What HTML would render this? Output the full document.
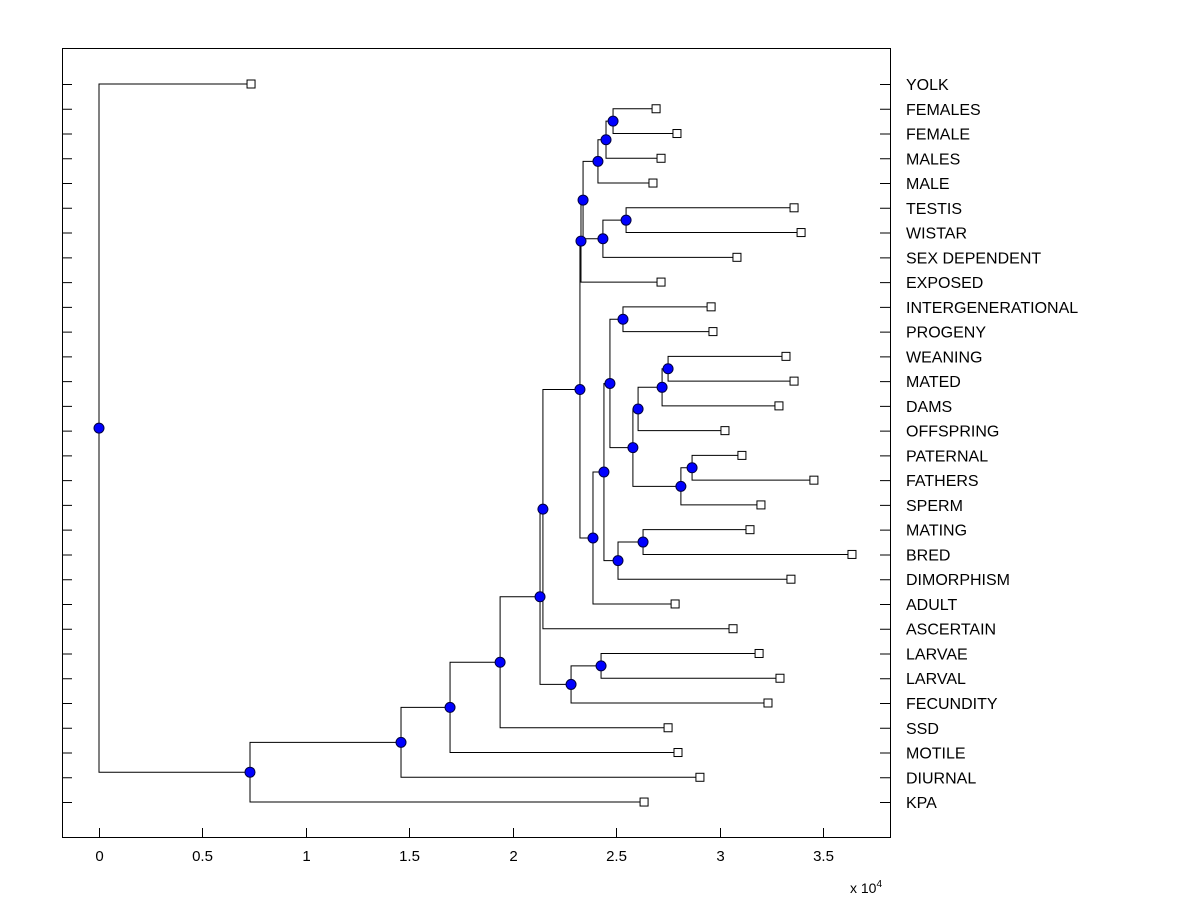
<!DOCTYPE html>
<html><head><meta charset="utf-8"><style>
html,body{margin:0;padding:0;background:#fff;}
svg{display:block;font-family:"Liberation Sans",Arial,sans-serif;}
</style></head><body>
<svg id="chart" width="1200" height="900" viewBox="0 0 1200 900" xmlns="http://www.w3.org/2000/svg">
<rect x="0" y="0" width="1200" height="900" fill="#fff"/>
<g id="g-lines"></g>
<g id="g-marks"></g>
<rect x="62.5" y="48.5" width="828" height="789" fill="none" stroke="#000" stroke-width="1"/>
<g id="g-axes"></g>
<text x="850" y="893" font-size="14">x 10<tspan dy="-6" font-size="10">4</tspan></text>
</svg>
<script>
const leafLabels = ["YOLK","FEMALES","FEMALE","MALES","MALE","TESTIS","WISTAR","SEX DEPENDENT","EXPOSED","INTERGENERATIONAL","PROGENY","WEANING","MATED","DAMS","OFFSPRING","PATERNAL","FATHERS","SPERM","MATING","BRED","DIMORPHISM","ADULT","ASCERTAIN","LARVAE","LARVAL","FECUNDITY","SSD","MOTILE","DIURNAL","KPA"];
const leafValues = [0.735,2.693,2.794,2.717,2.678,3.360,3.394,3.084,2.717,2.959,2.968,3.321,3.360,3.287,3.026,3.108,3.456,3.200,3.147,3.640,3.345,2.785,3.065,3.191,3.292,3.234,2.751,2.799,2.905,2.635];
// merges: [childA, childB]; node ids 30+ in order
const mergeLeft  = [1,30,31,5,33,32,35,9,11,38,39,15,41,40,37,18,45,44,47,36,49,23,51,50,53,54,55,56,0];
const mergeRight = [2,3,4,6,7,34,8,10,12,13,14,16,17,42,43,19,20,46,21,48,22,24,25,52,26,27,28,29,57];
const mergeHeights = [2.485,2.451,2.412,2.548,2.436,2.340,2.330,2.533,2.751,2.722,2.606,2.867,2.813,2.581,2.470,2.630,2.509,2.441,2.388,2.325,2.146,2.427,2.282,2.132,1.939,1.697,1.460,0.730,0.0];
const xTickValues = [0,0.5,1,1.5,2,2.5,3,3.5];
const xTickLabels = ["0","0.5","1","1.5","2","2.5","3","3.5"];
</script>
<script>
(function(){
const NS="http://www.w3.org/2000/svg";
const xScale=v=>99+v*206.86;
const yScale=i=>84+i*24.76;
function mk(tag,attrs,parent){const e=document.createElementNS(NS,tag);for(const k in attrs)e.setAttribute(k,attrs[k]);parent.appendChild(e);return e;}
const gL=document.getElementById('g-lines'),gM=document.getElementById('g-marks'),gA=document.getElementById('g-axes');
const n=leafLabels.length;
const X=[],Y=[];
for(let i=0;i<n;i++){X[i]=xScale(leafValues[i]);Y[i]=yScale(i);}
for(let k=0;k<mergeLeft.length;k++){
  const a=mergeLeft[k],b=mergeRight[k],id=n+k;
  X[id]=xScale(mergeHeights[k]);Y[id]=(Y[a]+Y[b])/2;
  const px=X[id];
  const p=mk('path',{d:`M${X[a]} ${Y[a]}H${px}V${Y[b]}H${X[b]}`,fill:'none',stroke:'#000','stroke-width':1},gL);
  
  
}
for(let i=0;i<n;i++){
  const r=mk('rect',{x:X[i]-4,y:Y[i]-4,width:8,height:8,fill:'#fff',stroke:'#000','stroke-width':1},gM);
  
  
  const t=mk('text',{x:906,y:Y[i]+6,'font-size':16,fill:'#000'},gA);
  t.textContent=leafLabels[i];
  
  
  const l=mk('path',{d:`M62 ${Y[i]+0.5}h10M880 ${Y[i]+0.5}h10`,stroke:'#000','stroke-width':1},gA);
  
  
}
for(let k=0;k<mergeLeft.length;k++){
  const id=n+k;
  const c=mk('circle',{cx:X[id],cy:Y[id],r:5,fill:'#0000ff',stroke:'#000040','stroke-width':1},gM);
  
  
}
xTickValues.forEach((v,i)=>{
  const x=Math.round(xScale(v))+0.5;
  const l=mk('path',{d:`M${x} 837V828`,stroke:'#000','stroke-width':1},gA);
  
  
  const t=mk('text',{x:x,y:861,'font-size':15,'text-anchor':'middle'},gA);
  t.textContent=xTickLabels[i];
  
  
});
})();
</script>
</body></html>
